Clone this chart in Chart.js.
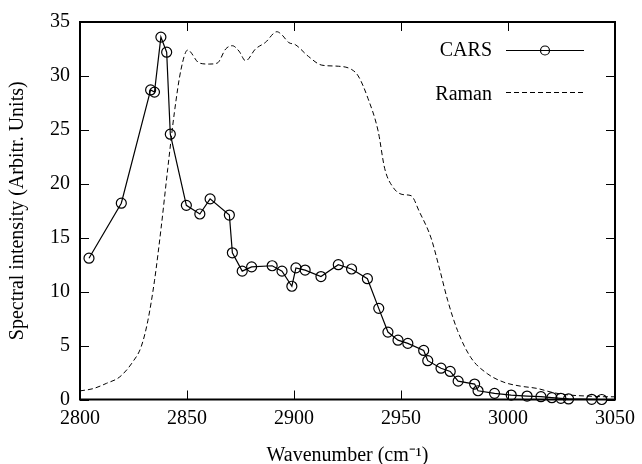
<!DOCTYPE html>
<html lang="en">
<head>
  <meta charset="UTF-8">
  <title>CARS vs Raman</title>
  <script src="https://cdn.jsdelivr.net/npm/chart.js"></script>
  <style>
    body { margin: 0; background: white; }
    #wrap { width: 642px; height: 464px; }
  </style>
</head>
<body>

<div id="wrap"><canvas id="grafica" width="642" height="464"></canvas></div>

<script>
  // CARS measurement (points)
  const carsX = [2804.2, 2819.3, 2833.0, 2834.8, 2837.8, 2840.5, 2842.2, 2849.7, 2856.0, 2860.8,
                 2869.8, 2871.2, 2875.8, 2880.2, 2889.8, 2894.4, 2899.0, 2900.9, 2905.2, 2912.6,
                 2920.7, 2926.9, 2934.3, 2939.6, 2943.9, 2948.6, 2953.2, 2960.6, 2962.5, 2968.7,
                 2973.0, 2976.7, 2984.4, 2986.0, 2993.7, 3001.5, 3008.9, 3015.4, 3020.5, 3024.7,
                 3028.3, 3039.1, 3043.8];
  const carsY = [13.1, 18.2, 28.7, 28.5, 33.6, 32.2, 24.6, 18.0, 17.2, 18.6,
                 17.1, 13.6, 11.9, 12.3, 12.4, 11.9, 10.5, 12.2, 12.0, 11.4,
                 12.5, 12.1, 11.2, 8.45, 6.25, 5.5, 5.2, 4.55, 3.6, 2.9,
                 2.6, 1.7, 1.43, 0.81, 0.57, 0.41, 0.32, 0.26, 0.17, 0.11,
                 0.05, 0.02, 0.0];

  // Raman spectrum (dashed line)
  const ramanX = [2800, 2806, 2812.4, 2818.6, 2824.7, 2828.6, 2831.7, 2834.8, 2837.9, 2841,
                  2844.1, 2847.2, 2850.3, 2855.7, 2860.4, 2864.2, 2868.1, 2871.2, 2874.3, 2877.4,
                  2882, 2886.6, 2892, 2894.4, 2897.5, 2900.6, 2906.8, 2913, 2920.7, 2926.9,
                  2930, 2934.6, 2939.3, 2942.4, 2946.2, 2950.9, 2954.7, 2958.6, 2964, 2967.9,
                  2971.8, 2976.4, 2982.6, 2990.3, 2998.1, 3005.8, 3013.5, 3021.3, 3029, 3036.8,
                  3044.5, 3050];
  const ramanY = [0.8, 1.0, 1.5, 2.1, 3.5, 4.9, 7.3, 11.0, 15.9, 21.4,
                  26.6, 30.6, 32.4, 31.2, 31.1, 31.2, 32.5, 32.8, 32.3, 31.4,
                  32.5, 33.1, 34.1, 33.8, 33.1, 32.9, 31.8, 31.0, 30.9, 30.6,
                  30.0, 27.9, 24.9, 21.4, 19.7, 19.0, 18.9, 17.4, 15.0, 12.2,
                  9.2, 6.4, 3.9, 2.4, 1.6, 1.24, 1.03, 0.63, 0.41, 0.32,
                  0.26, 0.25];

  const xTicks = [2800, 2850, 2900, 2950, 3000, 3050];
  const yTicks = [0, 5, 10, 15, 20, 25, 30, 35];

  const FONT = "'Liberation Serif', 'Times New Roman', serif";

  // box, inward ticks on all four sides, and the gnuplot-style key
  const marcoPlugin = {
    id: 'marco',
    afterDraw(chart) {
      const { ctx, chartArea: a, scales } = chart;
      const x = scales.x, y = scales.y;
      ctx.save();
      ctx.strokeStyle = '#000';
      ctx.lineWidth = 1;
      ctx.setLineDash([]);
      xTicks.forEach(v => {
        const px = Math.round(x.getPixelForValue(v)) + 0.5;
        ctx.beginPath();
        ctx.moveTo(px, a.bottom); ctx.lineTo(px, a.bottom - 9);
        ctx.moveTo(px, a.top); ctx.lineTo(px, a.top + 9);
        ctx.stroke();
      });
      yTicks.forEach(v => {
        const py = Math.round(y.getPixelForValue(v)) + 0.5;
        ctx.beginPath();
        ctx.moveTo(a.left, py); ctx.lineTo(a.left + 9, py);
        ctx.moveTo(a.right, py); ctx.lineTo(a.right - 9, py);
        ctx.stroke();
      });
      ctx.lineWidth = 2;
      ctx.strokeRect(a.left, a.top, a.right - a.left, a.bottom - a.top);

      // key
      const ds = chart.data.datasets;
      ctx.font = '20px ' + FONT;
      ctx.fillStyle = '#000';
      ctx.textAlign = 'right';
      ctx.textBaseline = 'middle';
      ctx.fillText(ds[0].label, 492, 51);
      ctx.fillText(ds[1].label, 492, 95);

      ctx.lineWidth = 1.2;
      ctx.beginPath();
      ctx.moveTo(506, 50.5); ctx.lineTo(584, 50.5);
      ctx.stroke();
      ctx.beginPath();
      ctx.arc(545, 50.5, 4.5, 0, Math.PI * 2);
      ctx.stroke();

      ctx.lineWidth = 1;
      ctx.setLineDash([5, 3]);
      ctx.beginPath();
      ctx.moveTo(506, 92.5); ctx.lineTo(584, 92.5);
      ctx.stroke();
      ctx.restore();
    }
  };

  const ctx = document.getElementById('grafica').getContext('2d');
  new Chart(ctx, {
    type: 'line',
    data: {
      datasets: [
        {
          label: 'CARS',
          data: carsX.map((v, i) => ({ x: v, y: carsY[i] })),
          borderColor: '#000',
          borderWidth: 1.2,
          pointRadius: 5,
          pointBorderWidth: 1.2,
          pointBorderColor: '#000',
          pointBackgroundColor: 'rgba(0,0,0,0)',
          tension: 0,
          clip: false
        },
        {
          label: 'Raman',
          data: ramanX.map((v, i) => ({ x: v, y: ramanY[i] })),
          borderColor: '#000',
          borderWidth: 1,
          borderDash: [5, 3],
          pointRadius: 0,
          cubicInterpolationMode: 'monotone'
        }
      ]
    },
    options: {
      responsive: false,
      animation: false,
      layout: { padding: { left: 0, right: 25, top: 19, bottom: 0 } },
      plugins: {
        legend: { display: false },
        tooltip: { enabled: false }
      },
      scales: {
        x: {
          type: 'linear',
          min: 2800,
          max: 3050,
          afterFit: s => { s.height = 64.5; },
          grid: { display: false, drawTicks: false, tickLength: 0 },
          border: { display: false },
          ticks: {
            stepSize: 50,
            padding: 7,
            color: '#000',
            callback: v => String(v),
            font: { family: FONT, size: 20, lineHeight: 1.2 }
          },
          title: {
            display: true,
            text: 'Wavenumber (cm⁻¹)',
            color: '#000',
            padding: { top: 0, bottom: -2 },
            font: { family: FONT, size: 20, lineHeight: 1 }
          }
        },
        y: {
          min: 0,
          max: 35,
          afterFit: s => { s.width = 80; },
          grid: { display: false, drawTicks: false, tickLength: 0 },
          border: { display: false },
          ticks: {
            stepSize: 5,
            padding: 10,
            color: '#000',
            callback: v => String(v),
            font: { family: FONT, size: 20, lineHeight: 1.2 }
          },
          title: {
            display: true,
            text: 'Spectral intensity (Arbitr. Units)',
            color: '#000',
            padding: { top: 8, bottom: 0 },
            font: { family: FONT, size: 20, lineHeight: 1 }
          }
        }
      }
    },
    plugins: [marcoPlugin]
  });
</script>

</body>
</html>
